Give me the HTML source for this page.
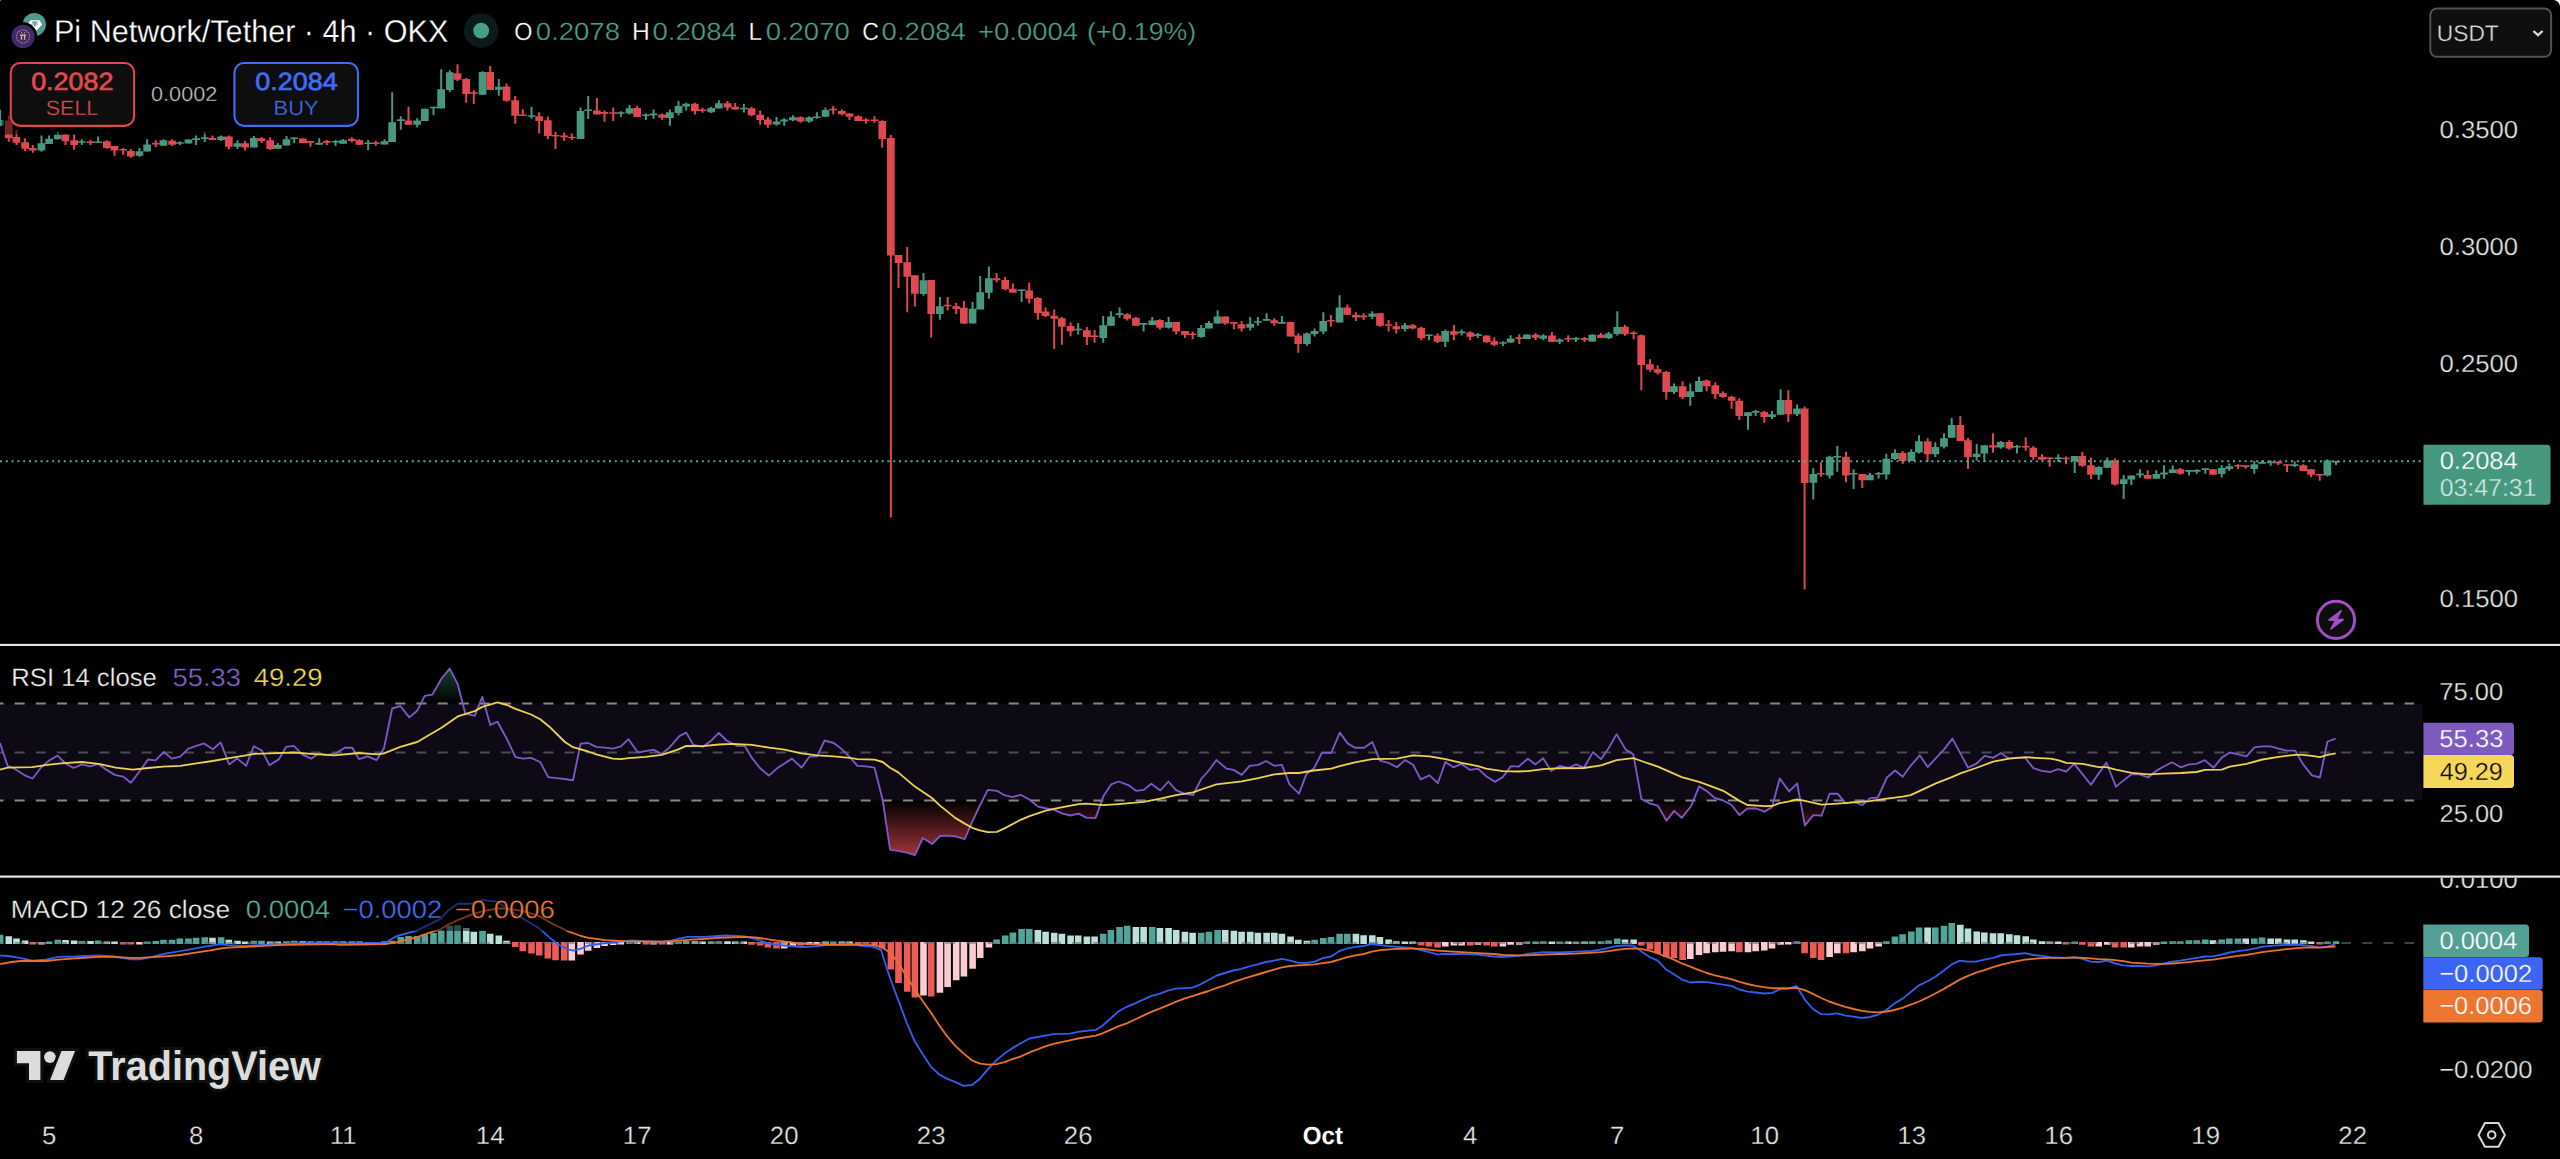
<!DOCTYPE html>
<html lang="en"><head><meta charset="utf-8"><title>Pi Network/Tether 4h OKX chart</title>
<style>
html,body{margin:0;padding:0;background:#000;overflow:hidden}
body{width:2560px;height:1159px;position:relative;font-family:"Liberation Sans",sans-serif}
svg{position:absolute;left:0;top:0;display:block}
text{font-family:"Liberation Sans",sans-serif;white-space:pre;text-rendering:geometricPrecision}
</style></head><body>
<svg width="2560" height="1159" viewBox="0 0 2560 1159">
<rect width="2560" height="1159" fill="#000"/>
<g id="candles">
<path d="M0.1 109.7v16.6M41.5 135.4v16.3M49.1 135.4v8.5M57.8 131.4v7.8M81.8 139.2v5.9M98.1 136.4v6.4M139.5 148v8.8M147.1 139.2v12.4M163.5 139.2v6.5M179.8 141.3v3.8M188.5 139.5v4.1M196.1 135.4v9.5M204.8 131.8v10.1M221.1 135.4v5.7M237.5 140.3v8.6M253.8 136.1v11.4M277.8 143v5.9M286.5 136.1v9.3M294.2 137.5v5.7M319.2 138.2v6.5M335.5 140.1v5.7M343.2 139v4.7M368.2 140.1v9.8M384.5 139.2v5.2M392.2 92.2v49.7M400.8 116.3v13.5M417.2 118.3v9.3M424.8 108.8v12.1M433.5 106.7v8.5M441.2 69.2v39.3M449.8 70.2v22M482.5 71.2v23.5M498.8 79v16.8M531.5 106.7v12.1M580.5 107.5v31.4M588.2 96.1v22.8M620.9 111.3v5.8M629.5 104.9v9.5M645.9 113.4v6.5M653.5 109.5v9.3M669.9 109.5v16.3M678.5 100.9v14.3M686.2 102.8v7.8M711.2 106.7v6.4M718.9 100.2v8.3M743.9 103.8v8.8M776.5 117.1v8.7M784.2 118.3v7.5M792.9 115.2v6M809.2 116.3v6.4M816.9 112.3v6.5M825.5 107.5v9.3M923.5 273.1v22.6M939.9 297.1v22.6M972.6 302.1v21.5M980.2 276v33.3M988.9 266.4v32.4M1021.6 289.5v12.4M1078.2 323v11.4M1103.2 316.1v26.7M1110.9 311.2v14.5M1119.6 307.6v10.1M1143.6 323.1v8.3M1152.2 317.1v7.9M1168.6 317.1v11.4M1201.2 325v12.8M1208.9 321.1v7.5M1217.6 310.2v13.5M1250.2 317.1v13.3M1257.9 317.1v8.6M1266.6 313.3v7.2M1281.9 316.1v7.6M1306.9 332.5v13.3M1314.6 328.5v7.9M1323.3 312.3v22M1339.6 295.2v27.4M1372.3 311.2v7.8M1404.9 322.9v8.5M1428.9 334.5v5.7M1445.3 329.6v17.4M1461.6 329.5v5.9M1477.9 333.1v5M1502.9 341.2v4.9M1510.6 335.2v7.5M1526.9 334.4v4.5M1543.3 334.2v6M1559.6 338.3v5.7M1575.9 337.1v4.9M1592.3 334.2v7.5M1608.6 332.1v7M1617.3 311.2v24.2M1674 383.4v10.7M1690.3 383.4v22.4M1699 376.7v15.2M1748 412.3v17.4M1755.6 410.1v6M1772 411.1v7.8M1780.6 389.2v25.6M1797 404.4v11.7M1813.3 468.3v31.3M1829.6 455.7v22.8M1837.3 446.1v25.6M1853.6 469.2v19.7M1870 473v7.2M1878.6 471.9v6.5M1886.3 453.8v25.7M1895 449.2v10.9M1911.3 449.2v11.9M1919 435.2v18.4M1935.3 442.2v14.9M1944 433.3v15.3M1951.7 418.1v19.7M1976.7 444v16.6M1984.3 445.3v16.6M2000.7 440.9v7.8M2017 445v8.6M2058.3 454.3v7.8M2074.7 455.9v17.1M2098.7 466.3v13.5M2107.3 457.5v10.4M2123.7 475.1v23.8M2131.3 475.4v9.7M2140 469.2v8.5M2156.3 470.2v8.5M2164 465.2v13.5M2172.7 465.2v7.8M2189 470.2v5.4M2196.7 469.2v4.6M2205.3 468.3v5.4M2221.7 465.2v12.4M2229.3 463.4v7.6M2254.3 461.1v12.6M2262 460.6v3.1M2270.7 460.6v5.2M2294.7 461.3v5.8M2327.4 459.2v17.4M2336 461.1v3.9" stroke="#46987f" stroke-width="2" fill="none"/>
<path d="M8.8 115.4v26.4M16.5 129.9v15M25.1 138.2v12.7M32.8 144.9v7.8M65.5 133.7v11.2M74.1 134.3v15.5M90.5 139.9v5.2M106.8 140.2v8.6M114.5 146.1v9.6M123.1 148v6.7M130.8 149v8.8M155.8 140.2v6.7M172.1 139.2v6.7M212.5 135.4v4.7M228.8 135.4v14.2M245.1 141.1v9.5M261.5 137.2v5.8M270.2 137.2v12.7M302.8 138.5v4.5M310.5 141.1v5.7M326.8 140.1v5M351.8 137.2v5.2M359.5 139.2v5.5M375.8 141.1v4.7M408.5 106.7v18M457.5 64.3v16.6M466.2 78v24.8M473.8 90.2v13.7M490.2 66v24.1M506.5 83.6v18.1M515.2 96.1v27.6M522.8 109.2v6.8M539.2 112.3v21.3M547.8 116.5v22.8M555.5 131.8v17.1M564.2 132.6v8.5M571.8 133.6v6.4M596.9 98.1v16.3M604.5 110.6v11.1M613.2 107.5v13.5M637.2 105.7v11.4M662.2 113.4v6.5M694.9 102.8v11.6M702.5 107.8v4.9M727.5 100.9v9.6M735.2 103v6.5M751.5 106.7v9.5M760.2 110.6v14.2M767.9 117.1v10.6M800.5 116.3v6.4M833.2 105.9v8.5M841.9 109.5v5.7M849.5 113.4v6.5M858.2 115.2v5.7M865.9 118.3v5.4M874.5 116.3v6.7M882.2 120.2v27.6M890.9 135v382.5M898.5 255v33.1M907.2 247v65.2M914.9 275.2v31.3M931.2 279.9v57.5M947.6 297.1v13.3M956.2 302.9v11.1M963.9 301.1v22.6M996.6 273.1v9.3M1005.2 277.1v13.1M1012.9 283.5v9.3M1029.2 282.4v21.2M1037.9 297.1v22.6M1045.6 307.5v9.6M1054.2 309.4v39.5M1061.9 317.1v27.6M1070.6 322.3v14M1086.9 327.1v17.8M1094.6 329.9v12.9M1127.2 313.3v7.2M1135.9 317.1v8.6M1159.9 319.2v10.4M1176.2 322.1v12.4M1184.9 330.9v7.2M1192.6 331.4v7.8M1225.2 316.4v8.3M1233.9 322.1v7.5M1241.6 321.1v10.4M1274.3 318.2v7.6M1290.6 322.1v14.3M1298.3 333.3v19.4M1330.9 315.1v11.7M1347.3 304.5v10.4M1355.9 312.3v8.6M1363.6 313.3v6.7M1379.9 313.3v13.5M1388.6 320v11.4M1396.3 322.1v11.4M1412.6 324v5.6M1421.3 326.8v13.5M1437.6 333.3v9.7M1453.9 324.9v15.3M1470.3 331.3v8.9M1486.6 335.4v7.6M1494.3 337.3v8.8M1519.3 334.2v9.8M1535.6 333.1v7M1551.9 332.1v9.8M1568.3 335.2v6.7M1584.6 337.1v4.9M1600.9 333.1v5M1625 324.9v10.9M1633.6 331.2v8M1641.3 334.5v55.7M1650 359.3v12.4M1657.6 365.3v9.3M1666.3 370.9v28.8M1682.6 381.3v17.6M1706.6 379.5v11.7M1715.3 382.3v16.6M1723 391.2v6.6M1731.6 396.1v12.7M1739.3 398.2v21.7M1764.3 411.1v11.9M1788.3 390.2v31.8M1804.6 406.5v183M1821 462.3v14.5M1846 451.8v30.5M1862.3 474v14M1902.6 450.9v13M1927.6 438.3v23.6M1960.3 416v24.8M1968 438.1v30.7M1993 433.3v19.5M2009.3 440.2v9.5M2025.7 437.3v13.5M2033.3 446.1v14M2042 454.3v6.2M2049.7 457.5v9.3M2066 456.4v7.8M2082.3 451.8v15M2091 457.5v21.4M2115 458.5v26.9M2147.7 470.2v8.5M2180.3 468.1v6.6M2213 469.2v5.6M2238 464.2v4.7M2245.7 465.4v3.4M2278.3 461.1v3.9M2287 464.2v7.8M2303.4 464.2v6.7M2311 469.2v7.7M2319.7 474v6.7" stroke="#de484e" stroke-width="2" fill="none"/>
<path d="M-3.7 120h7.7v5.7h-7.7zM37.6 143.3h7.7v7.2h-7.7zM45.3 138.7h7.7v5.2h-7.7zM53.9 134.7h7.7v4.5h-7.7zM77.9 141.2h7.7v1.6h-7.7zM94.3 141.5h7.7v1.6h-7.7zM135.6 151.3h7.7v4.5h-7.7zM143.3 144.4h7.7v7.2h-7.7zM159.6 140.2h7.7v5.5h-7.7zM176 142.2h7.7v1.6h-7.7zM184.6 139.5h7.7v4.1h-7.7zM192.3 138.3h7.7v1.6h-7.7zM201 137.2h7.7v1.7h-7.7zM217.3 136.4h7.7v3.6h-7.7zM233.6 143.2h7.7v3.6h-7.7zM250 138h7.7v9.5h-7.7zM274 145h7.7v3.8h-7.7zM282.6 139.2h7.7v6.2h-7.7zM290.3 137.5h7.7v1.6h-7.7zM315.3 142.7h7.7v2.1h-7.7zM331.6 140.9h7.7v1.6h-7.7zM339.3 140.3h7.7v3.4h-7.7zM364.3 142.5h7.7v1.6h-7.7zM380.6 141.3h7.7v3.1h-7.7zM388.3 122.3h7.7v19.7h-7.7zM397 119.3h7.7v1.6h-7.7zM413.3 120.4h7.7v4.3h-7.7zM421 108.8h7.7v12.1h-7.7zM429.7 106.7h7.7v1.6h-7.7zM437.3 89.3h7.7v19.2h-7.7zM446 72.3h7.7v17.6h-7.7zM478.7 71.9h7.7v22.8h-7.7zM495 86.7h7.7v3.1h-7.7zM527.7 115.2h7.7v1.6h-7.7zM576.7 110.9h7.7v28h-7.7zM584.3 109.5h7.7v1.6h-7.7zM617 112.2h7.7v1.6h-7.7zM625.7 108.2h7.7v5.2h-7.7zM642 114.4h7.7v1.7h-7.7zM649.7 113.6h7.7v1.6h-7.7zM666 112.3h7.7v5.8h-7.7zM674.7 106.1h7.7v6.8h-7.7zM682.3 103.8h7.7v2.6h-7.7zM707.3 108h7.7v4.3h-7.7zM715 103.3h7.7v5.2h-7.7zM740 107.7h7.7v1.6h-7.7zM772.7 121.4h7.7v3.1h-7.7zM780.4 119.6h7.7v1.9h-7.7zM789 117.3h7.7v2.9h-7.7zM805.4 117.3h7.7v4.3h-7.7zM813 116.4h7.7v1.6h-7.7zM821.7 110h7.7v6.7h-7.7zM919.7 280.2h7.7v13.7h-7.7zM936 306.3h7.7v7.8h-7.7zM968.7 308.8h7.7v14.8h-7.7zM976.4 292.3h7.7v17.1h-7.7zM985 278.3h7.7v14.5h-7.7zM1017.7 289.4h7.7v1.6h-7.7zM1074.4 328.7h7.7v1.6h-7.7zM1099.4 325.2h7.7v12.9h-7.7zM1107.1 316.4h7.7v9.3h-7.7zM1115.7 313.3h7.7v1.6h-7.7zM1139.7 323.1h7.7v1.6h-7.7zM1148.4 320.6h7.7v4.5h-7.7zM1164.7 322.1h7.7v5.7h-7.7zM1197.4 328.1h7.7v9h-7.7zM1205.1 323.1h7.7v5.4h-7.7zM1213.7 316.4h7.7v7.2h-7.7zM1246.4 323.7h7.7v4.1h-7.7zM1254.1 321.2h7.7v1.6h-7.7zM1262.7 319.1h7.7v1.6h-7.7zM1278.1 322.1h7.7v1.6h-7.7zM1303.1 333.5h7.7v10.4h-7.7zM1310.7 330.9h7.7v3.1h-7.7zM1319.4 321.1h7.7v10.4h-7.7zM1335.7 307.6h7.7v15h-7.7zM1368.4 313.6h7.7v3.1h-7.7zM1401.1 325.2h7.7v3.9h-7.7zM1425.1 334.5h7.7v1.6h-7.7zM1441.4 330.9h7.7v10.9h-7.7zM1457.8 331.6h7.7v1.6h-7.7zM1474.1 334.3h7.7v1.6h-7.7zM1499.1 342.2h7.7v1.6h-7.7zM1506.8 338.5h7.7v4.1h-7.7zM1523.1 334.4h7.7v4.5h-7.7zM1539.4 335.4h7.7v3.4h-7.7zM1555.8 339.4h7.7v2.3h-7.7zM1572.1 338h7.7v1.6h-7.7zM1588.4 334.7h7.7v6.9h-7.7zM1604.8 333.4h7.7v4.8h-7.7zM1613.4 326.9h7.7v7h-7.7zM1670.1 386.3h7.7v5.7h-7.7zM1686.4 391.2h7.7v5.9h-7.7zM1695.1 380.9h7.7v11.1h-7.7zM1744.1 412.3h7.7v3.7h-7.7zM1751.8 411.1h7.7v1.6h-7.7zM1768.1 414.2h7.7v2.9h-7.7zM1776.8 399.9h7.7v14.8h-7.7zM1793.1 408.5h7.7v5.7h-7.7zM1809.5 474h7.7v8.8h-7.7zM1825.8 456.7h7.7v18.8h-7.7zM1833.5 455.9h7.7v1.6h-7.7zM1849.8 473h7.7v1.6h-7.7zM1866.1 475.1h7.7v5.2h-7.7zM1874.8 473h7.7v1.6h-7.7zM1882.5 458.8h7.7v15.7h-7.7zM1891.1 453h7.7v6h-7.7zM1907.5 452h7.7v9.1h-7.7zM1915.1 441.2h7.7v11.4h-7.7zM1931.5 447.1h7.7v7.2h-7.7zM1940.1 438.3h7.7v8.5h-7.7zM1947.8 425.1h7.7v12.7h-7.7zM1972.8 453.8h7.7v3.3h-7.7zM1980.5 445.3h7.7v8.3h-7.7zM1996.8 441.9h7.7v5.7h-7.7zM2013.1 446h7.7v1.6h-7.7zM2054.5 457.4h7.7v1.6h-7.7zM2070.8 455.9h7.7v5.4h-7.7zM2094.8 467.1h7.7v7.7h-7.7zM2103.5 460.6h7.7v7.2h-7.7zM2119.8 479.2h7.7v4.7h-7.7zM2127.5 475.4h7.7v4.1h-7.7zM2136.2 473.6h7.7v1.6h-7.7zM2152.5 474h7.7v4.7h-7.7zM2160.2 472.5h7.7v1.9h-7.7zM2168.8 469.4h7.7v3.6h-7.7zM2185.2 470.1h7.7v1.6h-7.7zM2192.8 470.1h7.7v1.6h-7.7zM2201.5 468.3h7.7v1.6h-7.7zM2217.8 468.1h7.7v5.9h-7.7zM2225.5 466.3h7.7v2.6h-7.7zM2250.5 464.2h7.7v4.7h-7.7zM2258.2 462.1h7.7v1.6h-7.7zM2266.8 461.6h7.7v1.6h-7.7zM2290.8 464.3h7.7v1.6h-7.7zM2323.5 460.6h7.7v15h-7.7zM2332.2 460.9h7.7v1.6h-7.7z" fill="#46987f"/>
<path d="M4.9 120.6h7.7v17.6h-7.7zM12.6 137.1h7.7v5.7h-7.7zM21.3 142.3h7.7v6.5h-7.7zM28.9 148h7.7v2.6h-7.7zM61.6 134.5h7.7v6.7h-7.7zM70.3 140.2h7.7v4.7h-7.7zM86.6 141.4h7.7v1.6h-7.7zM103 141.3h7.7v6.7h-7.7zM110.6 146.1h7.7v4.5h-7.7zM119.3 149h7.7v1.6h-7.7zM127 150.9h7.7v5.6h-7.7zM152 142.8h7.7v1.6h-7.7zM168.3 140.7h7.7v4.1h-7.7zM208.6 138h7.7v2.1h-7.7zM225 136.4h7.7v10.4h-7.7zM241.3 143.2h7.7v4.3h-7.7zM257.6 138.2h7.7v2.9h-7.7zM266.3 140.3h7.7v8.6h-7.7zM299 138.5h7.7v4.5h-7.7zM306.6 141.1h7.7v1.6h-7.7zM323 141.1h7.7v1.6h-7.7zM348 138.8h7.7v2.3h-7.7zM355.6 140.3h7.7v4.5h-7.7zM372 142.5h7.7v1.6h-7.7zM404.6 120.4h7.7v4.3h-7.7zM453.7 73.3h7.7v6.5h-7.7zM462.3 79h7.7v15h-7.7zM470 92.2h7.7v1.6h-7.7zM486.3 71.9h7.7v18.2h-7.7zM502.7 86.4h7.7v14.3h-7.7zM511.3 100.2h7.7v15.5h-7.7zM519 114.4h7.7v1.7h-7.7zM535.3 116.3h7.7v4.7h-7.7zM544 120.2h7.7v15.9h-7.7zM551.7 134.9h7.7v1.6h-7.7zM560.3 135.6h7.7v1.6h-7.7zM568 136.7h7.7v1.6h-7.7zM593 110.6h7.7v3.8h-7.7zM600.7 112.1h7.7v1.6h-7.7zM609.3 112.2h7.7v1.6h-7.7zM633.3 108h7.7v9.1h-7.7zM658.3 114.4h7.7v3.4h-7.7zM691 103.8h7.7v7.5h-7.7zM698.7 109.5h7.7v1.6h-7.7zM723.7 103.3h7.7v4.1h-7.7zM731.3 106.7h7.7v2.8h-7.7zM747.7 108.2h7.7v7h-7.7zM756.3 114.7h7.7v5.2h-7.7zM764 119.4h7.7v5.4h-7.7zM796.7 117.3h7.7v4.3h-7.7zM829.4 108.7h7.7v1.6h-7.7zM838 110.9h7.7v3.3h-7.7zM845.7 113.4h7.7v3.4h-7.7zM854.4 116.3h7.7v4.7h-7.7zM862 119.4h7.7v1.6h-7.7zM870.7 119.4h7.7v1.6h-7.7zM878.4 120.9h7.7v18.1h-7.7zM887 138h7.7v117.6h-7.7zM894.7 255h7.7v8h-7.7zM903.4 262.3h7.7v14.5h-7.7zM911 275.2h7.7v18.6h-7.7zM927.4 279.9h7.7v34.2h-7.7zM943.7 304.7h7.7v1.6h-7.7zM952.4 306.3h7.7v2.6h-7.7zM960 307.8h7.7v15.8h-7.7zM992.7 278.3h7.7v1.9h-7.7zM1001.4 279.9h7.7v9.3h-7.7zM1009 288.7h7.7v4.1h-7.7zM1025.4 290.5h7.7v8.3h-7.7zM1034 298h7.7v15h-7.7zM1041.7 311.4h7.7v4.7h-7.7zM1050.4 315.8h7.7v2.9h-7.7zM1058 318.2h7.7v8.6h-7.7zM1066.7 326.1h7.7v5.2h-7.7zM1083 330.2h7.7v6.9h-7.7zM1090.7 335.5h7.7v1.6h-7.7zM1123.4 314.3h7.7v4.5h-7.7zM1132.1 318h7.7v7.8h-7.7zM1156.1 320h7.7v7.8h-7.7zM1172.4 322.1h7.7v9.3h-7.7zM1181.1 330.9h7.7v3.8h-7.7zM1188.7 333.5h7.7v1.6h-7.7zM1221.4 316.4h7.7v7.2h-7.7zM1230.1 322.1h7.7v1.6h-7.7zM1237.7 324.2h7.7v4.3h-7.7zM1270.4 320.2h7.7v3.1h-7.7zM1286.7 322.1h7.7v14.3h-7.7zM1294.4 335.4h7.7v8.5h-7.7zM1327.1 320h7.7v1.6h-7.7zM1343.4 307.6h7.7v7.2h-7.7zM1352.1 314.7h7.7v2.8h-7.7zM1359.7 315.6h7.7v1.6h-7.7zM1376.1 313.3h7.7v12.4h-7.7zM1384.7 324.2h7.7v1.6h-7.7zM1392.4 326.3h7.7v2.9h-7.7zM1408.7 325.2h7.7v3.3h-7.7zM1417.4 327.8h7.7v10.4h-7.7zM1433.7 335.4h7.7v6.4h-7.7zM1450.1 331.3h7.7v3.4h-7.7zM1466.4 332.6h7.7v4.1h-7.7zM1482.8 335.4h7.7v6.5h-7.7zM1490.4 341.2h7.7v3.5h-7.7zM1515.4 337.3h7.7v1.6h-7.7zM1531.8 334.7h7.7v3.1h-7.7zM1548.1 335.4h7.7v6.5h-7.7zM1564.4 338h7.7v1.6h-7.7zM1580.8 338.3h7.7v1.6h-7.7zM1597.1 334.7h7.7v3.4h-7.7zM1621.1 326.7h7.7v7.5h-7.7zM1629.8 332.4h7.7v1.6h-7.7zM1637.4 335.3h7.7v29.7h-7.7zM1646.1 364.3h7.7v5.4h-7.7zM1653.8 369.2h7.7v3.6h-7.7zM1662.4 372h7.7v20h-7.7zM1678.8 386.3h7.7v10.9h-7.7zM1702.8 380.6h7.7v5.7h-7.7zM1711.4 385.2h7.7v8.8h-7.7zM1719.1 393.3h7.7v3.8h-7.7zM1727.8 396.8h7.7v3.9h-7.7zM1735.4 400.7h7.7v15.3h-7.7zM1760.4 412.1h7.7v5h-7.7zM1784.5 399.9h7.7v14.3h-7.7zM1800.8 408.6h7.7v74.3h-7.7zM1817.1 473h7.7v1.6h-7.7zM1842.1 456.7h7.7v18.8h-7.7zM1858.5 474h7.7v6.2h-7.7zM1898.8 453h7.7v7.9h-7.7zM1923.8 441.2h7.7v13.1h-7.7zM1956.5 425.1h7.7v15.8h-7.7zM1964.1 440.2h7.7v17h-7.7zM1989.1 445.3h7.7v2.3h-7.7zM2005.5 441.9h7.7v6.7h-7.7zM2021.8 446h7.7v1.6h-7.7zM2029.5 447.8h7.7v9.3h-7.7zM2038.1 456.7h7.7v3.1h-7.7zM2045.8 457.4h7.7v1.6h-7.7zM2062.1 457.7h7.7v1.6h-7.7zM2078.5 455.9h7.7v9.8h-7.7zM2087.1 465.2h7.7v9.5h-7.7zM2111.1 460.6h7.7v23.8h-7.7zM2143.8 475.1h7.7v3.6h-7.7zM2176.5 469.2h7.7v4.6h-7.7zM2209.2 469.2h7.7v5.6h-7.7zM2234.2 465h7.7v1.6h-7.7zM2241.8 465.3h7.7v1.6h-7.7zM2274.5 461.9h7.7v1.6h-7.7zM2283.2 464.2h7.7v1.6h-7.7zM2299.5 465.2h7.7v5.7h-7.7zM2307.2 469.2h7.7v5.6h-7.7zM2315.8 474h7.7v1.6h-7.7z" fill="#de484e"/>
</g>
<path d="M0 461.25H2422" stroke="#4fae94" stroke-width="2" stroke-dasharray="2 3.8" fill="none"/>
<rect x="0" y="643.85" width="2560" height="2.15" fill="#e4e6ec"/>
<rect x="0" y="875.5" width="2560" height="2.2" fill="#e4e6ec"/>
<rect x="0" y="703.5" width="2422" height="97.0" fill="#0d0a15"/>
<defs><linearGradient id="gob" x1="0" y1="631" x2="0" y2="703.5" gradientUnits="userSpaceOnUse"><stop offset="0" stop-color="#3f957a" stop-opacity="0.85"/><stop offset="1" stop-color="#3f9b78" stop-opacity="0"/></linearGradient><linearGradient id="gos" x1="0" y1="800.5" x2="0" y2="873" gradientUnits="userSpaceOnUse"><stop offset="0" stop-color="#e0484e" stop-opacity="0"/><stop offset="1" stop-color="#e0484e" stop-opacity="0.95"/></linearGradient><clipPath id="cob"><rect x="0" y="646" width="2422" height="57.5"/></clipPath><clipPath id="cos"><rect x="0" y="800.5" width="2422" height="74.5"/></clipPath></defs>
<path d="M0 703.5 L0 743 L7.6 765.8 L13.3 768 L24.7 775.3 L32.6 778.5 L40.8 767.7 L49 760.6 L57.5 755.7 L65.5 763.5 L73.6 768 L82 764.4 L90.1 766.3 L98.3 763.9 L106.7 769.9 L114.8 774.9 L123 776.6 L130.9 782.8 L139.5 771.5 L148 759.5 L155.6 760.4 L163.8 751.9 L171.7 758.6 L180.3 756.7 L188.4 748.7 L196.4 745.8 L204 743.4 L212.9 749.3 L220.7 742.4 L229.1 764.4 L237.2 758.6 L246.1 765.8 L253.9 746.2 L261.9 750.6 L269.5 765.2 L279 759.1 L286.2 746.8 L293.8 745.8 L302.1 754.4 L311.2 758.7 L318.8 753.4 L327.4 754.9 L335.9 753.4 L344.7 747.7 L352.3 747.7 L359 759.1 L367.5 756.3 L376.6 760.1 L384 748.3 L392.2 708.5 L400.3 706 L409.3 717.4 L417.2 710.7 L424.8 695.9 L432.4 694.6 L441.5 678.5 L449.7 668.6 L457.7 684.2 L465.3 713.6 L474.7 715.9 L482.3 696.9 L490.3 725 L497.5 721.7 L507 739.2 L515.5 757.2 L523.1 758.6 L531.1 757.8 L540.2 762 L548.2 777.1 L556.3 778.1 L564.9 779 L573 780.4 L580.6 743.6 L588.2 743 L596.2 746.8 L604.7 747.7 L612.7 748.7 L620.9 746.4 L628.5 739.2 L637.9 752.5 L645.5 751.1 L653.5 749.6 L661.7 754 L669.3 747.7 L679.7 735.8 L686.3 732.6 L693.3 744.9 L702.8 746.8 L710.7 741.1 L718.9 732.9 L726.5 740.5 L736.9 745.8 L744.5 745.5 L752.1 758.2 L759.7 767.7 L768.8 775.6 L776.8 768.6 L784.4 763.5 L792 758.6 L801.5 767.7 L809.4 756.7 L817 756.3 L824.6 740.5 L833.7 743 L841.3 748.7 L849.8 757.2 L857.4 765.8 L866 766.3 L874.5 767.7 L882.7 799.9 L890.1 849.8 L898.2 850.8 L906.8 852.7 L914.9 855 L922.9 837.9 L932 844.1 L940 836 L947.6 835.6 L955.2 836.4 L964.7 839.2 L972.3 821.7 L979.8 805.6 L987.8 789.9 L996.9 790.8 L1004.5 795.2 L1012.5 797.1 L1020.6 794.8 L1029.5 799.5 L1038 806.6 L1046.6 808.5 L1054.2 809.8 L1062.7 813.6 L1070.3 815.5 L1078.5 813.6 L1086.4 817.6 L1095.5 818.1 L1103.5 796.1 L1111.1 784.4 L1118.7 781.5 L1128.2 785.1 L1136.1 790.8 L1143.7 789.9 L1151.3 783.8 L1160.4 790.4 L1168.4 781.5 L1176 790.1 L1184.2 793.7 L1193.1 795.2 L1201.2 779 L1208.8 770.5 L1216.4 760.1 L1226.5 768.6 L1233.5 769.9 L1241.7 774.9 L1249.6 765.8 L1258.2 764.8 L1266.1 761 L1274.3 765.8 L1281.9 764.8 L1289.5 784.4 L1299 793.7 L1306.6 773.7 L1313.8 768.6 L1322.1 752.5 L1331.2 753 L1339.8 732.6 L1347.7 743.4 L1354.9 747.7 L1364.2 747.7 L1372.3 742 L1379.9 760.6 L1388.5 762.9 L1397 767.3 L1405 760.1 L1413.1 764.8 L1420.7 779.4 L1429.6 775.3 L1437.8 783.2 L1445.4 762 L1453.4 767.3 L1461.5 763.9 L1470.1 769.9 L1478 768.6 L1486.2 776.2 L1495.1 781.9 L1502.7 777.1 L1510.9 766.1 L1518.5 766.7 L1527.9 758.7 L1535.5 764.4 L1543.1 758.2 L1551.1 770.9 L1560.2 765.8 L1568.2 768 L1576 764.4 L1583.9 767.7 L1593 752.1 L1601 759.1 L1608.6 748.3 L1616.6 734.1 L1625.7 749.6 L1633.3 754.4 L1641.4 799 L1649.4 803.3 L1657.9 805.6 L1666.5 820.8 L1674.1 810.9 L1681.7 817.9 L1691.2 806 L1699.1 786.3 L1707.2 791.4 L1714.8 798 L1723.2 800.5 L1731.3 804.7 L1739.5 815.1 L1747.4 808.5 L1756 808.5 L1764.5 811.7 L1772.1 807.1 L1779.7 778.5 L1789.2 791.4 L1797.2 783.4 L1804.9 825.5 L1813.3 815.1 L1821.5 815.7 L1829.6 793.7 L1837.6 793.7 L1845.6 803.3 L1853.7 801.8 L1862.3 805 L1869.8 798.4 L1877.8 797.5 L1886.9 777.5 L1895.1 770.5 L1902.7 776.8 L1910.6 765.8 L1919.8 755.3 L1927.7 767.1 L1935.9 758.2 L1943.9 749.6 L1952.4 738.6 L1960.4 753.4 L1968.1 767.7 L1976.1 763.9 L1984.7 755.9 L1993.2 757.8 L2000.8 753 L2009 758.6 L2016.9 757.6 L2025.5 758.2 L2033.4 768.2 L2041.9 770.9 L2050.4 772 L2058 769.2 L2066.2 771.5 L2074.2 763.9 L2082.7 774.3 L2090.9 784.7 L2098.8 773.4 L2106.4 762.5 L2115.9 786.6 L2123.5 780.4 L2131.5 774.3 L2139.6 774.3 L2148.2 777.5 L2156.1 770.9 L2163.4 766.7 L2171.9 762.3 L2180.8 767.3 L2189 764.4 L2196.6 763.9 L2204.7 760.1 L2213.6 767.7 L2221.8 757.6 L2229.8 752.5 L2238.3 754.4 L2246.5 756.3 L2254.4 747.4 L2262.4 746.4 L2270.6 746.4 L2278.7 748.7 L2286.7 750.6 L2295.2 750.6 L2302.8 763.9 L2311.9 775.3 L2319.9 777.5 L2327.5 741.5 L2335.7 738.6 L2335.7 703.5 Z" fill="url(#gob)" clip-path="url(#cob)"/>
<path d="M0 800.5 L0 743 L7.6 765.8 L13.3 768 L24.7 775.3 L32.6 778.5 L40.8 767.7 L49 760.6 L57.5 755.7 L65.5 763.5 L73.6 768 L82 764.4 L90.1 766.3 L98.3 763.9 L106.7 769.9 L114.8 774.9 L123 776.6 L130.9 782.8 L139.5 771.5 L148 759.5 L155.6 760.4 L163.8 751.9 L171.7 758.6 L180.3 756.7 L188.4 748.7 L196.4 745.8 L204 743.4 L212.9 749.3 L220.7 742.4 L229.1 764.4 L237.2 758.6 L246.1 765.8 L253.9 746.2 L261.9 750.6 L269.5 765.2 L279 759.1 L286.2 746.8 L293.8 745.8 L302.1 754.4 L311.2 758.7 L318.8 753.4 L327.4 754.9 L335.9 753.4 L344.7 747.7 L352.3 747.7 L359 759.1 L367.5 756.3 L376.6 760.1 L384 748.3 L392.2 708.5 L400.3 706 L409.3 717.4 L417.2 710.7 L424.8 695.9 L432.4 694.6 L441.5 678.5 L449.7 668.6 L457.7 684.2 L465.3 713.6 L474.7 715.9 L482.3 696.9 L490.3 725 L497.5 721.7 L507 739.2 L515.5 757.2 L523.1 758.6 L531.1 757.8 L540.2 762 L548.2 777.1 L556.3 778.1 L564.9 779 L573 780.4 L580.6 743.6 L588.2 743 L596.2 746.8 L604.7 747.7 L612.7 748.7 L620.9 746.4 L628.5 739.2 L637.9 752.5 L645.5 751.1 L653.5 749.6 L661.7 754 L669.3 747.7 L679.7 735.8 L686.3 732.6 L693.3 744.9 L702.8 746.8 L710.7 741.1 L718.9 732.9 L726.5 740.5 L736.9 745.8 L744.5 745.5 L752.1 758.2 L759.7 767.7 L768.8 775.6 L776.8 768.6 L784.4 763.5 L792 758.6 L801.5 767.7 L809.4 756.7 L817 756.3 L824.6 740.5 L833.7 743 L841.3 748.7 L849.8 757.2 L857.4 765.8 L866 766.3 L874.5 767.7 L882.7 799.9 L890.1 849.8 L898.2 850.8 L906.8 852.7 L914.9 855 L922.9 837.9 L932 844.1 L940 836 L947.6 835.6 L955.2 836.4 L964.7 839.2 L972.3 821.7 L979.8 805.6 L987.8 789.9 L996.9 790.8 L1004.5 795.2 L1012.5 797.1 L1020.6 794.8 L1029.5 799.5 L1038 806.6 L1046.6 808.5 L1054.2 809.8 L1062.7 813.6 L1070.3 815.5 L1078.5 813.6 L1086.4 817.6 L1095.5 818.1 L1103.5 796.1 L1111.1 784.4 L1118.7 781.5 L1128.2 785.1 L1136.1 790.8 L1143.7 789.9 L1151.3 783.8 L1160.4 790.4 L1168.4 781.5 L1176 790.1 L1184.2 793.7 L1193.1 795.2 L1201.2 779 L1208.8 770.5 L1216.4 760.1 L1226.5 768.6 L1233.5 769.9 L1241.7 774.9 L1249.6 765.8 L1258.2 764.8 L1266.1 761 L1274.3 765.8 L1281.9 764.8 L1289.5 784.4 L1299 793.7 L1306.6 773.7 L1313.8 768.6 L1322.1 752.5 L1331.2 753 L1339.8 732.6 L1347.7 743.4 L1354.9 747.7 L1364.2 747.7 L1372.3 742 L1379.9 760.6 L1388.5 762.9 L1397 767.3 L1405 760.1 L1413.1 764.8 L1420.7 779.4 L1429.6 775.3 L1437.8 783.2 L1445.4 762 L1453.4 767.3 L1461.5 763.9 L1470.1 769.9 L1478 768.6 L1486.2 776.2 L1495.1 781.9 L1502.7 777.1 L1510.9 766.1 L1518.5 766.7 L1527.9 758.7 L1535.5 764.4 L1543.1 758.2 L1551.1 770.9 L1560.2 765.8 L1568.2 768 L1576 764.4 L1583.9 767.7 L1593 752.1 L1601 759.1 L1608.6 748.3 L1616.6 734.1 L1625.7 749.6 L1633.3 754.4 L1641.4 799 L1649.4 803.3 L1657.9 805.6 L1666.5 820.8 L1674.1 810.9 L1681.7 817.9 L1691.2 806 L1699.1 786.3 L1707.2 791.4 L1714.8 798 L1723.2 800.5 L1731.3 804.7 L1739.5 815.1 L1747.4 808.5 L1756 808.5 L1764.5 811.7 L1772.1 807.1 L1779.7 778.5 L1789.2 791.4 L1797.2 783.4 L1804.9 825.5 L1813.3 815.1 L1821.5 815.7 L1829.6 793.7 L1837.6 793.7 L1845.6 803.3 L1853.7 801.8 L1862.3 805 L1869.8 798.4 L1877.8 797.5 L1886.9 777.5 L1895.1 770.5 L1902.7 776.8 L1910.6 765.8 L1919.8 755.3 L1927.7 767.1 L1935.9 758.2 L1943.9 749.6 L1952.4 738.6 L1960.4 753.4 L1968.1 767.7 L1976.1 763.9 L1984.7 755.9 L1993.2 757.8 L2000.8 753 L2009 758.6 L2016.9 757.6 L2025.5 758.2 L2033.4 768.2 L2041.9 770.9 L2050.4 772 L2058 769.2 L2066.2 771.5 L2074.2 763.9 L2082.7 774.3 L2090.9 784.7 L2098.8 773.4 L2106.4 762.5 L2115.9 786.6 L2123.5 780.4 L2131.5 774.3 L2139.6 774.3 L2148.2 777.5 L2156.1 770.9 L2163.4 766.7 L2171.9 762.3 L2180.8 767.3 L2189 764.4 L2196.6 763.9 L2204.7 760.1 L2213.6 767.7 L2221.8 757.6 L2229.8 752.5 L2238.3 754.4 L2246.5 756.3 L2254.4 747.4 L2262.4 746.4 L2270.6 746.4 L2278.7 748.7 L2286.7 750.6 L2295.2 750.6 L2302.8 763.9 L2311.9 775.3 L2319.9 777.5 L2327.5 741.5 L2335.7 738.6 L2335.7 800.5 Z" fill="url(#gos)" clip-path="url(#cos)"/>
<path d="M0 703.5H2414" stroke="#858585" stroke-width="2" stroke-dasharray="10 11.15" stroke-dashoffset="6.5" fill="none"/>
<path d="M0 752.5H2414" stroke="#4a4a50" stroke-width="2" stroke-dasharray="10 11.15" stroke-dashoffset="6.5" fill="none"/>
<path d="M0 800.5H2414" stroke="#858585" stroke-width="2" stroke-dasharray="10 11.15" stroke-dashoffset="6.5" fill="none"/>
<polyline points="0,743 7.6,765.8 13.3,768 24.7,775.3 32.6,778.5 40.8,767.7 49,760.6 57.5,755.7 65.5,763.5 73.6,768 82,764.4 90.1,766.3 98.3,763.9 106.7,769.9 114.8,774.9 123,776.6 130.9,782.8 139.5,771.5 148,759.5 155.6,760.4 163.8,751.9 171.7,758.6 180.3,756.7 188.4,748.7 196.4,745.8 204,743.4 212.9,749.3 220.7,742.4 229.1,764.4 237.2,758.6 246.1,765.8 253.9,746.2 261.9,750.6 269.5,765.2 279,759.1 286.2,746.8 293.8,745.8 302.1,754.4 311.2,758.7 318.8,753.4 327.4,754.9 335.9,753.4 344.7,747.7 352.3,747.7 359,759.1 367.5,756.3 376.6,760.1 384,748.3 392.2,708.5 400.3,706 409.3,717.4 417.2,710.7 424.8,695.9 432.4,694.6 441.5,678.5 449.7,668.6 457.7,684.2 465.3,713.6 474.7,715.9 482.3,696.9 490.3,725 497.5,721.7 507,739.2 515.5,757.2 523.1,758.6 531.1,757.8 540.2,762 548.2,777.1 556.3,778.1 564.9,779 573,780.4 580.6,743.6 588.2,743 596.2,746.8 604.7,747.7 612.7,748.7 620.9,746.4 628.5,739.2 637.9,752.5 645.5,751.1 653.5,749.6 661.7,754 669.3,747.7 679.7,735.8 686.3,732.6 693.3,744.9 702.8,746.8 710.7,741.1 718.9,732.9 726.5,740.5 736.9,745.8 744.5,745.5 752.1,758.2 759.7,767.7 768.8,775.6 776.8,768.6 784.4,763.5 792,758.6 801.5,767.7 809.4,756.7 817,756.3 824.6,740.5 833.7,743 841.3,748.7 849.8,757.2 857.4,765.8 866,766.3 874.5,767.7 882.7,799.9 890.1,849.8 898.2,850.8 906.8,852.7 914.9,855 922.9,837.9 932,844.1 940,836 947.6,835.6 955.2,836.4 964.7,839.2 972.3,821.7 979.8,805.6 987.8,789.9 996.9,790.8 1004.5,795.2 1012.5,797.1 1020.6,794.8 1029.5,799.5 1038,806.6 1046.6,808.5 1054.2,809.8 1062.7,813.6 1070.3,815.5 1078.5,813.6 1086.4,817.6 1095.5,818.1 1103.5,796.1 1111.1,784.4 1118.7,781.5 1128.2,785.1 1136.1,790.8 1143.7,789.9 1151.3,783.8 1160.4,790.4 1168.4,781.5 1176,790.1 1184.2,793.7 1193.1,795.2 1201.2,779 1208.8,770.5 1216.4,760.1 1226.5,768.6 1233.5,769.9 1241.7,774.9 1249.6,765.8 1258.2,764.8 1266.1,761 1274.3,765.8 1281.9,764.8 1289.5,784.4 1299,793.7 1306.6,773.7 1313.8,768.6 1322.1,752.5 1331.2,753 1339.8,732.6 1347.7,743.4 1354.9,747.7 1364.2,747.7 1372.3,742 1379.9,760.6 1388.5,762.9 1397,767.3 1405,760.1 1413.1,764.8 1420.7,779.4 1429.6,775.3 1437.8,783.2 1445.4,762 1453.4,767.3 1461.5,763.9 1470.1,769.9 1478,768.6 1486.2,776.2 1495.1,781.9 1502.7,777.1 1510.9,766.1 1518.5,766.7 1527.9,758.7 1535.5,764.4 1543.1,758.2 1551.1,770.9 1560.2,765.8 1568.2,768 1576,764.4 1583.9,767.7 1593,752.1 1601,759.1 1608.6,748.3 1616.6,734.1 1625.7,749.6 1633.3,754.4 1641.4,799 1649.4,803.3 1657.9,805.6 1666.5,820.8 1674.1,810.9 1681.7,817.9 1691.2,806 1699.1,786.3 1707.2,791.4 1714.8,798 1723.2,800.5 1731.3,804.7 1739.5,815.1 1747.4,808.5 1756,808.5 1764.5,811.7 1772.1,807.1 1779.7,778.5 1789.2,791.4 1797.2,783.4 1804.9,825.5 1813.3,815.1 1821.5,815.7 1829.6,793.7 1837.6,793.7 1845.6,803.3 1853.7,801.8 1862.3,805 1869.8,798.4 1877.8,797.5 1886.9,777.5 1895.1,770.5 1902.7,776.8 1910.6,765.8 1919.8,755.3 1927.7,767.1 1935.9,758.2 1943.9,749.6 1952.4,738.6 1960.4,753.4 1968.1,767.7 1976.1,763.9 1984.7,755.9 1993.2,757.8 2000.8,753 2009,758.6 2016.9,757.6 2025.5,758.2 2033.4,768.2 2041.9,770.9 2050.4,772 2058,769.2 2066.2,771.5 2074.2,763.9 2082.7,774.3 2090.9,784.7 2098.8,773.4 2106.4,762.5 2115.9,786.6 2123.5,780.4 2131.5,774.3 2139.6,774.3 2148.2,777.5 2156.1,770.9 2163.4,766.7 2171.9,762.3 2180.8,767.3 2189,764.4 2196.6,763.9 2204.7,760.1 2213.6,767.7 2221.8,757.6 2229.8,752.5 2238.3,754.4 2246.5,756.3 2254.4,747.4 2262.4,746.4 2270.6,746.4 2278.7,748.7 2286.7,750.6 2295.2,750.6 2302.8,763.9 2311.9,775.3 2319.9,777.5 2327.5,741.5 2335.7,738.6" fill="none" stroke="#7d58c6" stroke-width="1.85" stroke-linejoin="round"/>
<polyline points="0,769.6 7.6,767.7 32.3,767.1 47.4,764.8 60.7,763.3 81.6,762 98.7,763.9 115.8,767.7 132.8,769.6 148,768 163.2,766.7 180.3,765.8 196.4,763.3 212.5,761 229.1,758.2 246.1,755.3 254.3,753.8 269.5,753.4 294.1,752.5 311.2,753.8 334,755.3 359,753 378,754.4 384,753.4 400.3,746.8 417.2,742 441.5,727.8 457.7,716.4 474.7,711.1 482.3,706.9 497.5,702.4 507,705 515.5,708.8 531.1,714.5 540.2,719.3 550.6,727.8 564.9,742 573,747.2 588.2,751.5 596.2,754.4 612.7,758.6 620.9,759.1 628.5,758.2 645.5,756.8 661.7,754.8 677.8,749.6 686.3,745.8 702.8,746.2 718.9,744.5 733.1,743.9 752.1,744.9 769.2,747.7 784.4,749.6 801.5,753.4 817,755.3 833.7,756.3 849.8,757.8 857.4,759.1 874.5,759.7 882.7,762 890.1,767.7 898.2,772.4 914.9,786.6 932,798 940,805.6 955.2,817.9 964.7,823.6 972.3,827.8 979.8,830.3 987.8,832.2 996.9,831.8 1004.5,828.4 1020.6,819.8 1029.5,816.1 1046.6,810.4 1062.7,807.1 1078.5,804.1 1086.4,803.7 1103.5,805.2 1118.7,804.1 1143.7,801.8 1160.4,798.6 1176,795.2 1193.1,792.3 1201.2,789.5 1216.4,784.4 1241.7,781.3 1258.2,778.1 1274.3,774.3 1289.5,773 1299,773 1313.8,770.5 1331.2,768.6 1339.8,766.1 1354.9,762.3 1372.3,759.1 1397,758.7 1413.1,755.3 1429.6,756.3 1445.4,759.1 1461.5,762.9 1478,766.1 1486.2,768.6 1502.7,771.1 1518.5,771.5 1527.9,771.1 1543.1,769.2 1560.2,768.2 1583.9,768 1601,765.4 1616.6,760.1 1633.3,758.2 1641.4,761 1657.9,766.7 1681.7,777.1 1699.1,781.9 1714.8,787.6 1723.2,790.8 1739.5,800.9 1747.4,805 1764.5,806.2 1772.1,806 1779.7,803.1 1789.2,801.4 1797.2,799.5 1804.9,800.9 1821.5,804.7 1837.6,803.7 1853.7,802.4 1869.8,801.2 1886.9,798.6 1902.7,796.7 1910.6,795.2 1919.8,790.8 1935.9,783.4 1952.4,776.8 1960.4,773.4 1976.1,768 1993.2,761.6 2009,758.6 2025.5,757.2 2040,758.2 2050.4,758.7 2058,760.1 2066.2,762.9 2082.7,763.9 2098.8,767.1 2106.4,767.1 2115.9,769.6 2131.5,772.8 2148.2,774.3 2163.4,773.7 2180.8,773 2196.6,772 2204.7,769.9 2221.8,769.6 2229.8,766.7 2246.5,763.9 2262.4,759.5 2278.7,756.8 2295.2,754.8 2302.8,754.9 2311.9,755.9 2319.9,757.2 2327.5,754.9 2335.7,753.4" fill="none" stroke="#ecd04e" stroke-width="1.85" stroke-linejoin="round"/>
<path d="M-3.2 934.8h6.6v9.1h-6.6zM45.8 941.5h6.6v2.4h-6.6zM54.5 939.8h6.6v4.1h-6.6zM78.5 941.1h6.6v2.8h-6.6zM94.8 940.5h6.6v3.4h-6.6zM143.8 941.5h6.6v2.4h-6.6zM152.5 940.9h6.6v3h-6.6zM160.2 939.8h6.6v4.1h-6.6zM168.8 939.8h6.6v4.1h-6.6zM176.5 938.6h6.6v5.3h-6.6zM185.2 938.6h6.6v5.3h-6.6zM192.8 937.7h6.6v6.2h-6.6zM201.5 937.3h6.6v6.6h-6.6zM217.8 937.3h6.6v6.6h-6.6zM250.5 940.7h6.6v3.2h-6.6zM258.2 940.7h6.6v3.2h-6.6zM283.2 941.3h6.6v2.6h-6.6zM290.9 940.7h6.6v3.2h-6.6zM388.9 940.7h6.6v3.2h-6.6zM397.5 937.1h6.6v6.8h-6.6zM405.2 936h6.6v7.9h-6.6zM413.9 936h6.6v7.9h-6.6zM421.5 934.3h6.6v9.6h-6.6zM430.2 933.1h6.6v10.8h-6.6zM437.9 929.9h6.6v14h-6.6zM446.5 925.7h6.6v18.2h-6.6zM454.2 925.2h6.6v18.7h-6.6zM479.2 930.8h6.6v13.1h-6.6zM626.2 941.3h6.6v2.6h-6.6zM675.2 941.5h6.6v2.4h-6.6zM682.9 940.9h6.6v3h-6.6zM707.9 941.3h6.6v2.6h-6.6zM715.6 941.3h6.6v2.6h-6.6zM829.9 941.5h6.6v2.4h-6.6zM993.3 939.4h6.6v4.5h-6.6zM1001.9 935.6h6.6v8.3h-6.6zM1009.6 932.4h6.6v11.5h-6.6zM1018.3 928.9h6.6v15h-6.6zM1025.9 928.9h6.6v15h-6.6zM1099.9 933.7h6.6v10.2h-6.6zM1107.6 929.9h6.6v14h-6.6zM1116.3 927h6.6v16.9h-6.6zM1123.9 925.7h6.6v18.2h-6.6zM1148.9 927h6.6v16.9h-6.6zM1197.9 932.7h6.6v11.2h-6.6zM1205.6 931.8h6.6v12.1h-6.6zM1214.3 929.9h6.6v14h-6.6zM1311.3 939.8h6.6v4.1h-6.6zM1320 937.9h6.6v6h-6.6zM1327.6 936.9h6.6v7h-6.6zM1336.3 933.7h6.6v10.2h-6.6zM1344 933.7h6.6v10.2h-6.6zM1523.6 941.5h6.6v2.4h-6.6zM1532.3 941.5h6.6v2.4h-6.6zM1540 941.3h6.6v2.6h-6.6zM1556.3 941.5h6.6v2.4h-6.6zM1572.6 941.5h6.6v2.4h-6.6zM1589 941.3h6.6v2.6h-6.6zM1597.6 941.3h6.6v2.6h-6.6zM1605.3 940.5h6.6v3.4h-6.6zM1614 938.4h6.6v5.5h-6.6zM1793.7 941.3h6.6v2.6h-6.6zM1883 941.3h6.6v2.6h-6.6zM1891.7 936.5h6.6v7.4h-6.6zM1899.3 934.3h6.6v9.6h-6.6zM1908 931.4h6.6v12.5h-6.6zM1915.7 927.6h6.6v16.3h-6.6zM1932 927.6h6.6v16.3h-6.6zM1940.7 925.7h6.6v18.2h-6.6zM1948.4 922.9h6.6v21h-6.6zM2071.4 941.5h6.6v2.4h-6.6zM2160.7 941.5h6.6v2.4h-6.6zM2169.4 941.3h6.6v2.6h-6.6zM2177 941.3h6.6v2.6h-6.6zM2185.7 940.3h6.6v3.6h-6.6zM2193.4 940.3h6.6v3.6h-6.6zM2202 939.4h6.6v4.5h-6.6zM2218.4 939.4h6.6v4.5h-6.6zM2226 938.4h6.6v5.5h-6.6zM2234.7 938.4h6.6v5.5h-6.6zM2251 938.4h6.6v5.5h-6.6zM2258.7 937.5h6.6v6.4h-6.6zM2324.1 941.5h6.6v2.4h-6.6zM2332.7 941.3h6.6v2.6h-6.6z" fill="#52a499"/>
<path d="M5.5 936.3h6.6v7.6h-6.6zM13.2 938.6h6.6v5.3h-6.6zM21.8 940.5h6.6v3.4h-6.6zM62.2 940.1h6.6v3.8h-6.6zM70.8 940.5h6.6v3.4h-6.6zM87.2 940.9h6.6v3h-6.6zM103.5 941.5h6.6v2.4h-6.6zM111.2 941.5h6.6v2.4h-6.6zM209.2 937.7h6.6v6.2h-6.6zM225.5 939.8h6.6v4.1h-6.6zM234.2 940.7h6.6v3.2h-6.6zM241.8 941.5h6.6v2.4h-6.6zM266.9 941.5h6.6v2.4h-6.6zM274.5 941.5h6.6v2.4h-6.6zM299.5 941.3h6.6v2.6h-6.6zM307.2 941.5h6.6v2.4h-6.6zM315.9 941.5h6.6v2.4h-6.6zM323.5 941.5h6.6v2.4h-6.6zM332.2 941.5h6.6v2.4h-6.6zM339.9 941.5h6.6v2.4h-6.6zM348.5 941.5h6.6v2.4h-6.6zM356.2 941.5h6.6v2.4h-6.6zM381.2 941.5h6.6v2.4h-6.6zM462.9 928h6.6v15.9h-6.6zM470.5 931.8h6.6v12.1h-6.6zM486.9 933.7h6.6v10.2h-6.6zM495.5 935.6h6.6v8.3h-6.6zM503.2 940.7h6.6v3.2h-6.6zM633.9 941.5h6.6v2.4h-6.6zM691.6 941.3h6.6v2.6h-6.6zM699.2 941.5h6.6v2.4h-6.6zM724.2 941.3h6.6v2.6h-6.6zM731.9 941.5h6.6v2.4h-6.6zM740.6 941.5h6.6v2.4h-6.6zM822.2 941.5h6.6v2.4h-6.6zM838.6 941.5h6.6v2.4h-6.6zM846.2 941.5h6.6v2.4h-6.6zM1034.6 929.9h6.6v14h-6.6zM1042.3 931.8h6.6v12.1h-6.6zM1050.9 932.7h6.6v11.2h-6.6zM1058.6 933.7h6.6v10.2h-6.6zM1067.3 935.6h6.6v8.3h-6.6zM1074.9 935.6h6.6v8.3h-6.6zM1083.6 936.5h6.6v7.4h-6.6zM1091.3 936.5h6.6v7.4h-6.6zM1132.6 927h6.6v16.9h-6.6zM1140.3 927h6.6v16.9h-6.6zM1156.6 928h6.6v15.9h-6.6zM1165.3 928h6.6v15.9h-6.6zM1172.9 929.9h6.6v14h-6.6zM1181.6 931.8h6.6v12.1h-6.6zM1189.3 932.7h6.6v11.2h-6.6zM1221.9 929.9h6.6v14h-6.6zM1230.6 930.8h6.6v13.1h-6.6zM1238.3 931.8h6.6v12.1h-6.6zM1246.9 931.8h6.6v12.1h-6.6zM1254.6 932.7h6.6v11.2h-6.6zM1263.3 932.7h6.6v11.2h-6.6zM1271 932.7h6.6v11.2h-6.6zM1278.6 933.7h6.6v10.2h-6.6zM1287.3 936.5h6.6v7.4h-6.6zM1295 939.8h6.6v4.1h-6.6zM1303.6 940.7h6.6v3.2h-6.6zM1352.6 933.7h6.6v10.2h-6.6zM1360.3 935.2h6.6v8.7h-6.6zM1369 935.2h6.6v8.7h-6.6zM1376.6 937.1h6.6v6.8h-6.6zM1385.3 939.4h6.6v4.5h-6.6zM1393 941.3h6.6v2.6h-6.6zM1401.6 941.5h6.6v2.4h-6.6zM1409.3 941.5h6.6v2.4h-6.6zM1548.6 941.5h6.6v2.4h-6.6zM1565 941.5h6.6v2.4h-6.6zM1581.3 941.5h6.6v2.4h-6.6zM1621.7 939.4h6.6v4.5h-6.6zM1630.3 939.4h6.6v4.5h-6.6zM1924.3 927.6h6.6v16.3h-6.6zM1957 924.8h6.6v19.1h-6.6zM1964.7 928.6h6.6v15.3h-6.6zM1973.4 931.4h6.6v12.5h-6.6zM1981 932.4h6.6v11.5h-6.6zM1989.7 933.3h6.6v10.6h-6.6zM1997.4 933.3h6.6v10.6h-6.6zM2006 934.3h6.6v9.6h-6.6zM2013.7 935.2h6.6v8.7h-6.6zM2022.4 936.2h6.6v7.7h-6.6zM2030 939.4h6.6v4.5h-6.6zM2038.7 941.3h6.6v2.6h-6.6zM2046.4 941.5h6.6v2.4h-6.6zM2055 941.5h6.6v2.4h-6.6zM2209.7 940.3h6.6v3.6h-6.6zM2242.4 938.4h6.6v5.5h-6.6zM2267.4 938.4h6.6v5.5h-6.6zM2275 938.4h6.6v5.5h-6.6zM2283.7 939.4h6.6v4.5h-6.6zM2291.4 939.4h6.6v4.5h-6.6zM2300.1 940.3h6.6v3.6h-6.6zM2307.7 941.5h6.6v2.4h-6.6z" fill="#b9e0d9"/>
<path d="M29.5 942.1h6.6v2.4h-6.6zM119.8 942.1h6.6v2.4h-6.6zM127.5 942.1h6.6v2.4h-6.6zM511.9 942.1h6.6v4.9h-6.6zM519.5 942.1h6.6v9.1h-6.6zM528.2 942.1h6.6v11.5h-6.6zM535.9 942.1h6.6v13.4h-6.6zM544.5 942.1h6.6v16.3h-6.6zM552.2 942.1h6.6v18.2h-6.6zM560.9 942.1h6.6v18.5h-6.6zM642.6 942.1h6.6v2.4h-6.6zM658.9 942.1h6.6v2.4h-6.6zM748.2 942.1h6.6v2.6h-6.6zM756.9 942.1h6.6v3.5h-6.6zM764.6 942.1h6.6v5.4h-6.6zM773.2 942.1h6.6v6.4h-6.6zM797.2 942.1h6.6v3.5h-6.6zM854.9 942.1h6.6v2.4h-6.6zM862.6 942.1h6.6v2.4h-6.6zM871.2 942.1h6.6v3h-6.6zM878.9 942.1h6.6v6.4h-6.6zM887.6 942.1h6.6v27.3h-6.6zM895.2 942.1h6.6v40.9h-6.6zM903.9 942.1h6.6v49.7h-6.6zM911.6 942.1h6.6v55.4h-6.6zM927.9 942.1h6.6v54.4h-6.6zM1418 942.1h6.6v3.5h-6.6zM1425.6 942.1h6.6v4.5h-6.6zM1434.3 942.1h6.6v5.4h-6.6zM1467 942.1h6.6v3.5h-6.6zM1483.3 942.1h6.6v3.5h-6.6zM1491 942.1h6.6v4.5h-6.6zM1638 942.1h6.6v3.5h-6.6zM1646.7 942.1h6.6v7.3h-6.6zM1654.3 942.1h6.6v11.1h-6.6zM1663 942.1h6.6v14.9h-6.6zM1670.7 942.1h6.6v15.9h-6.6zM1679.3 942.1h6.6v17.8h-6.6zM1736 942.1h6.6v10.2h-6.6zM1801.3 942.1h6.6v11.1h-6.6zM1810 942.1h6.6v15.9h-6.6zM1817.7 942.1h6.6v17.8h-6.6zM1842.7 942.1h6.6v11.1h-6.6zM2062.7 942.1h6.6v2.4h-6.6zM2079 942.1h6.6v2.6h-6.6zM2087.7 942.1h6.6v4.5h-6.6zM2111.7 942.1h6.6v5.4h-6.6zM2120.4 942.1h6.6v5.4h-6.6zM2316.4 942.1h6.6v2.4h-6.6z" fill="#ec5c56"/>
<path d="M38.2 942.1h6.6v2.4h-6.6zM136.2 942.1h6.6v2.4h-6.6zM364.9 942.1h6.6v2.4h-6.6zM372.5 942.1h6.6v2.4h-6.6zM568.5 942.1h6.6v18.5h-6.6zM577.2 942.1h6.6v12.5h-6.6zM584.9 942.1h6.6v8.7h-6.6zM593.6 942.1h6.6v5.8h-6.6zM601.2 942.1h6.6v3.9h-6.6zM609.9 942.1h6.6v3h-6.6zM617.6 942.1h6.6v2.4h-6.6zM650.2 942.1h6.6v2.4h-6.6zM666.6 942.1h6.6v2.4h-6.6zM780.9 942.1h6.6v6.4h-6.6zM789.6 942.1h6.6v4.9h-6.6zM805.9 942.1h6.6v3h-6.6zM813.6 942.1h6.6v2.4h-6.6zM920.2 942.1h6.6v53.5h-6.6zM936.6 942.1h6.6v50.6h-6.6zM944.3 942.1h6.6v44.9h-6.6zM952.9 942.1h6.6v38.1h-6.6zM960.6 942.1h6.6v34.3h-6.6zM969.3 942.1h6.6v26.7h-6.6zM976.9 942.1h6.6v15.9h-6.6zM985.6 942.1h6.6v5.4h-6.6zM1442 942.1h6.6v4.5h-6.6zM1450.6 942.1h6.6v3.5h-6.6zM1458.3 942.1h6.6v3.5h-6.6zM1474.6 942.1h6.6v2.6h-6.6zM1499.6 942.1h6.6v4.5h-6.6zM1507.3 942.1h6.6v2.6h-6.6zM1516 942.1h6.6v2.6h-6.6zM1687 942.1h6.6v16.8h-6.6zM1695.7 942.1h6.6v13h-6.6zM1703.3 942.1h6.6v11.1h-6.6zM1712 942.1h6.6v10.2h-6.6zM1719.7 942.1h6.6v9.6h-6.6zM1728.3 942.1h6.6v9.2h-6.6zM1744.7 942.1h6.6v10.2h-6.6zM1752.3 942.1h6.6v9.2h-6.6zM1761 942.1h6.6v8.3h-6.6zM1768.7 942.1h6.6v6.4h-6.6zM1777.3 942.1h6.6v2.6h-6.6zM1785 942.1h6.6v2.4h-6.6zM1826.3 942.1h6.6v14.9h-6.6zM1834 942.1h6.6v11.1h-6.6zM1850.3 942.1h6.6v10.2h-6.6zM1859 942.1h6.6v9.2h-6.6zM1866.7 942.1h6.6v6.4h-6.6zM1875.3 942.1h6.6v4.5h-6.6zM2095.4 942.1h6.6v4.5h-6.6zM2104 942.1h6.6v2.6h-6.6zM2128 942.1h6.6v5.4h-6.6zM2136.7 942.1h6.6v4.5h-6.6zM2144.4 942.1h6.6v4.5h-6.6zM2153 942.1h6.6v2.6h-6.6z" fill="#f9cdd1"/>
<path d="M0 943H2414" stroke="#6a6a72" stroke-opacity="0.6" stroke-width="2" stroke-dasharray="10 11.15" stroke-dashoffset="6.5" fill="none"/>
<polyline points="0,955.3 11.4,956.5 20.9,958.2 32.3,960.7 45.5,959.7 58.8,956.9 75.9,956.5 98.7,955.3 113.9,956.5 130.9,959.3 140.4,959.3 151.8,956.9 165.1,953.6 180.3,951.2 195.5,948.3 208.8,945.9 220.1,944.1 227.7,945.1 244.8,945.9 261.9,944.9 284.7,944 303.6,943.2 332.1,943 340,943.2 359,943.2 385.5,942.6 396.9,936 415.9,930.9 431.1,923.6 440.6,918.9 448.2,910.4 457.7,903.7 472.8,903.7 482.3,899.9 497.5,901.8 507,908.5 520.3,917 529.8,922.7 539.3,928.4 548.8,936.9 558.2,944.5 567.7,949.3 573.4,950.6 581,948.7 588.6,945.5 605.7,943 624.7,941.1 632.3,940.3 643.6,941.1 662.6,941.7 672.1,940.3 680,938.5 687.6,936.9 704.7,936.9 718,936 727.4,935.4 744.5,936.4 755.9,939.2 767.3,943 776.8,944.9 790.1,946 801.5,947 816.6,946.4 828,944.9 841.3,944.5 852.7,944.5 862.2,945.9 873.6,946.8 881.2,950.2 885.9,965.4 890.3,978.7 898.4,1000.5 906.6,1022.3 914.7,1041.3 922.9,1054.6 931.1,1066.9 939.2,1074.5 947.4,1078.9 955.6,1082.1 963.7,1085.9 971.9,1085 980,1078.7 988.2,1068.8 996.4,1060.3 1004.5,1053.6 1012.7,1047.9 1020.8,1043.2 1029.5,1038.5 1044.7,1035.6 1053.4,1034.1 1069.7,1033.7 1077.9,1031.8 1095.9,1029.9 1102.4,1025.7 1110.5,1018.5 1118.7,1011.3 1126.8,1006.8 1135,1003.4 1143.2,999.6 1151.3,995.8 1159.5,993.9 1167.6,990.6 1175.8,988.7 1184.2,988.2 1192.3,987.6 1200.5,984.4 1208.6,980 1216.8,975.5 1225,973 1233.1,970.5 1241.3,968.8 1249.4,966.3 1257.6,964.4 1265.8,962 1273.9,960.7 1282.1,958.8 1290.2,960.7 1298.4,962.9 1306.6,962.9 1314.7,961.6 1322.9,958.2 1331,956.5 1339.2,951.2 1347.4,948.3 1355.5,946.8 1363.8,945.9 1372,944.1 1380.1,945.1 1396.4,946.8 1412.8,947.9 1420.9,950.2 1429.1,952.1 1437.2,954.4 1445.4,954 1461.7,954 1478,954.6 1494.4,956.5 1502.5,957.2 1518.8,955.9 1527,954 1543.3,952.1 1559.6,952.5 1576,951.7 1592.3,950.8 1600.4,949.6 1608.6,947.9 1616.8,945.9 1624.9,945.5 1633.1,945.5 1641.2,951.2 1649.4,956.9 1657.6,960.7 1665.7,969.2 1673.9,974.3 1682,979.6 1690.2,982.5 1698.4,981.9 1706.8,982.1 1715,983.4 1731.3,985.9 1739.5,989.5 1747.6,991.6 1755.8,992.5 1764,993.5 1772.1,992.9 1780.3,989.1 1788.4,988.6 1796.6,985.9 1804.8,999.6 1812.9,1009 1821.1,1014.2 1829.2,1014.4 1837.4,1013.4 1845.6,1015.7 1853.7,1016.6 1861.9,1018 1870,1017 1878.2,1014.7 1886.4,1010 1894.5,1003.4 1902.7,998.6 1910.8,992 1919,985.3 1927.2,981.5 1935.3,976.8 1943.5,970.7 1951.6,964.4 1959.8,960.7 1968,961.6 1976.1,961.6 1984.3,959.7 1992.4,958.2 2000.6,955.5 2008.8,954.6 2016.9,954 2025.1,953.1 2033.2,955 2041.7,955.9 2049.9,957.2 2066.2,957.8 2074.3,957.4 2082.5,958.8 2090.7,961.6 2098.8,962 2107,960.7 2115.2,963.5 2123.3,965.4 2131.5,966 2139.6,965.8 2147.8,966.3 2156,965.4 2164.1,963.5 2172.3,961.6 2180.4,960.7 2188.6,959.1 2196.8,957.8 2204.9,956.5 2213.1,956.3 2221.2,954.6 2229.4,952.5 2237.6,951.2 2245.7,950.2 2253.9,948.7 2262,946.8 2270.2,945.9 2278.4,945.3 2286.5,944.9 2294.7,944.5 2302.8,945.1 2311,945.9 2319.2,947.4 2327.3,946.4 2335.5,944.5" fill="none" stroke="#315ef0" stroke-width="1.85" stroke-linejoin="round"/>
<polyline points="0,964.1 11.4,962 20.9,961 32.3,961 45.5,961 58.8,959.7 75.9,958.4 98.7,956.9 113.9,956.9 130.9,957.8 140.4,957.8 151.8,957.2 165.1,956.3 180.3,955 195.5,952.7 208.8,950.6 220.1,948.7 227.7,947.7 244.8,946.8 261.9,945.9 284.7,944.9 303.6,944.5 332.1,944.1 340,944.9 359,944.5 385.5,944.1 396.9,942.2 415.9,937.5 431.1,932.2 440.6,929.3 448.2,924.6 457.7,920.2 472.8,914.2 482.3,911.3 497.5,908.5 507,908.5 520.3,910.7 529.8,913.2 539.3,916.1 548.8,921.8 558.2,926.5 567.7,931.2 581,936 588.6,937.9 605.7,940.2 624.7,941.1 643.6,941.3 662.6,941.7 672.1,941.1 680,940.7 687.6,939.8 704.7,938.8 718,937.9 727.4,937.5 744.5,936.9 755.9,937.5 767.3,939.2 776.8,940.7 790.1,942.2 801.5,943.6 816.6,944.5 828,944.9 841.3,944.9 852.7,944.5 862.2,944.9 873.6,945.1 881.2,946.8 890.3,953.1 898.4,962.6 906.6,976.8 914.7,989.1 922.9,1001.5 931.1,1012.8 939.2,1025.2 947.4,1036.6 955.6,1046.1 963.7,1053.6 971.9,1060.3 980,1063.7 988.2,1064.6 996.4,1064.1 1004.5,1062.2 1012.7,1059 1020.8,1056.5 1029.5,1052.3 1044.7,1046.6 1053.4,1043.8 1069.7,1040.4 1077.9,1038.5 1095.9,1035.6 1102.4,1033.3 1110.5,1029.9 1118.7,1026.1 1126.8,1023.3 1135,1019.5 1143.2,1015.7 1151.3,1011.9 1159.5,1008.7 1167.6,1005.3 1175.8,1001.8 1184.2,998.6 1192.3,996.1 1200.5,993.5 1208.6,991 1216.8,987.8 1225,985.3 1233.1,982.1 1241.3,979.3 1249.4,976.8 1257.6,974.5 1265.8,972 1273.9,969.6 1282.1,967.3 1290.2,966 1298.4,965.4 1306.6,964.8 1314.7,964.4 1322.9,963.1 1331,962 1339.2,959.7 1347.4,957.2 1355.5,955.3 1363.8,954 1372,951.7 1380.1,950.2 1396.4,948.9 1412.8,948.7 1420.9,948.7 1429.1,949.6 1437.2,950.6 1445.4,951.2 1461.7,952.1 1478,953.1 1494.4,954 1502.5,955 1518.8,955.3 1527,955.3 1543.3,954.6 1559.6,954 1576,953.6 1592.3,952.7 1600.4,952.1 1608.6,951.2 1616.8,949.8 1624.9,948.9 1633.1,948.3 1641.2,948.9 1649.4,950.6 1657.6,953.1 1665.7,956.5 1673.9,959.7 1682,963.5 1690.2,966.7 1698.4,969.8 1706.8,973 1715,975.3 1731.3,979.1 1739.5,981.9 1747.6,984 1755.8,985.9 1764,987.2 1772.1,988.2 1780.3,988.2 1788.4,988.2 1796.6,987.8 1804.8,990.1 1812.9,993.9 1821.1,998 1829.2,1001.5 1837.4,1004.3 1845.6,1006.8 1853.7,1009 1861.9,1010.9 1870,1011.9 1878.2,1012.3 1886.4,1011.5 1894.5,1010 1902.7,1007.7 1910.8,1004.7 1919,1001.5 1927.2,997.7 1935.3,993.5 1943.5,989.1 1951.6,984.4 1959.8,979.6 1968,975.8 1976.1,972.6 1984.3,970.1 1992.4,967.3 2000.6,964.8 2008.8,962.9 2016.9,961.2 2025.1,959.7 2033.2,958.8 2041.7,958.2 2049.9,957.8 2066.2,957.8 2074.3,957.4 2082.5,957.8 2090.7,958.4 2098.8,959.1 2107,959.3 2115.2,960.1 2123.3,961.2 2131.5,962.6 2139.6,963.1 2147.8,963.7 2156,963.9 2164.1,963.9 2172.3,963.5 2180.4,962.9 2188.6,962.2 2196.8,961.2 2204.9,960.3 2213.1,959.7 2221.2,958.4 2229.4,957.2 2237.6,955.9 2245.7,955 2253.9,953.6 2262,952.1 2270.2,951.2 2278.4,950.2 2286.5,949.1 2294.7,948.3 2302.8,947.7 2311,947.4 2319.2,947.6 2327.3,947.2 2335.5,946.6" fill="none" stroke="#ea7128" stroke-width="1.85" stroke-linejoin="round"/>
<g id="hdr">
<circle cx="34.35" cy="24.5" r="11.6" fill="#4f9a92"/>
<path d="M30.4 20.2h9l2.8 4.2-7.3 7.8-7.3-7.8z" fill="#fff"/>
<path d="M32 22.1h5.7M34.85 22.1v4.4" stroke="#4f9a92" stroke-width="1.3" fill="none"/>
<ellipse cx="34.85" cy="24.3" rx="3" ry="0.8" fill="none" stroke="#4f9a92" stroke-width="0.7"/>
<circle cx="23.05" cy="36.45" r="14.2" fill="#000"/>
<circle cx="23.05" cy="36.45" r="11.65" fill="#3f2a70"/>
<circle cx="23.05" cy="36.45" r="6.5" fill="none" stroke="#d2954a" stroke-width="1.1" stroke-dasharray="1.6 0.9" stroke-opacity="0.9"/>
<path d="M20 35.2h6.1M21.5 35.2v4.6M24.6 35.2v4.6" stroke="#e8c050" stroke-width="1.3" fill="none"/>
<path d="M21.5 32.3v0.9M24.6 32.3v0.9" stroke="#e8c050" stroke-width="1.1" fill="none"/>
<text transform="translate(53.95,42.19) scale(0.9754,1)" font-size="31.36" fill="#fff" stroke="#000" stroke-width="0.3">Pi Network/Tether · 4h · OKX</text>
<circle cx="481.2" cy="30.6" r="17.3" fill="#0b1b17"/>
<circle cx="481.2" cy="30.6" r="7.9" fill="#4a9e88"/>
<text transform="translate(514.33,40.39) scale(0.9452,1)" font-size="24.76" fill="#fff" stroke="#000" stroke-width="0.3">O</text>
<text transform="translate(535.83,40.39) scale(1.1115,1)" font-size="24.76" fill="#4a9e88" stroke="#000" stroke-width="0.3">0.2078</text>
<text transform="translate(631.91,40.39) scale(0.995,1)" font-size="24.76" fill="#fff" stroke="#000" stroke-width="0.3">H</text>
<text transform="translate(652.51,40.39) scale(1.1131,1)" font-size="24.76" fill="#4a9e88" stroke="#000" stroke-width="0.3">0.2084</text>
<text transform="translate(748.59,40.39) scale(0.9831,1)" font-size="24.76" fill="#fff" stroke="#000" stroke-width="0.3">L</text>
<text transform="translate(765.68,40.39) scale(1.1099,1)" font-size="24.76" fill="#4a9e88" stroke="#000" stroke-width="0.3">0.2070</text>
<text transform="translate(862.22,40.39) scale(0.934,1)" font-size="24.76" fill="#fff" stroke="#000" stroke-width="0.3">C</text>
<text transform="translate(881.62,40.39) scale(1.1132,1)" font-size="24.76" fill="#4a9e88" stroke="#000" stroke-width="0.3">0.2084</text>
<text transform="translate(977.94,40.39) scale(1.1112,1)" font-size="24.76" fill="#4a9e88" stroke="#000" stroke-width="0.3">+0.0004</text>
<text transform="translate(1087.06,40.39) scale(1.0799,1)" font-size="24.76" fill="#4a9e88" stroke="#000" stroke-width="0.3">(+0.19%)</text>
</g>
<g id="trade">
<rect x="2" y="60" width="360" height="74.5" fill="#000" fill-opacity="0.5"/>
<rect x="10.75" y="63.05" width="123.4" height="62.8" rx="9.5" fill="#0e0e0e" stroke="#e0484e" stroke-width="2.1"/>
<text transform="translate(31.15,89.95) scale(1.0869,1)" font-size="24.76" fill="#e0484e" stroke="#e0484e" stroke-width="0.7">0.2082</text>
<text transform="translate(45.82,115.39) scale(1.0334,1)" font-size="20.76" fill="#e0484e" stroke="#0e0e0e" stroke-width="0.3">SELL</text>
<text transform="translate(151.02,101.29) scale(1.0668,1)" font-size="20.34" fill="#c4c4c4" stroke="#000" stroke-width="0.3">0.0002</text>
<rect x="234.45" y="63.05" width="123.55" height="62.8" rx="9.5" fill="#0e0e0e" stroke="#3e6cf5" stroke-width="2.1"/>
<text transform="translate(255.32,89.95) scale(1.0875,1)" font-size="24.76" fill="#3e6cf5" stroke="#3e6cf5" stroke-width="0.7">0.2084</text>
<text transform="translate(273.61,115.39) scale(1.054,1)" font-size="20.76" fill="#3e6cf5" stroke="#0e0e0e" stroke-width="0.3">BUY</text>
</g>
<g id="axis">
<path d="M2553.4 0h6.6v6.6a6.6 6.6 0 0 0-6.6-6.6z" fill="#fff"/>
<path d="M0 0h1.5a1.5 1.5 0 0 0-1.5 1.5z" fill="#bbb"/>
<rect x="2430.3" y="8.5" width="120.8" height="48.3" rx="6.5" fill="#0f0f0f" stroke="#515151" stroke-width="2"/>
<text transform="translate(2436.86,41.49) scale(1.0005,1)" font-size="22.7" fill="#dadada" stroke="#0f0f0f" stroke-width="0.3">USDT</text>
<path d="M2533.4 31l4.6 4.1 4.6-4.1" fill="none" stroke="#dcdcdc" stroke-width="2.3"/>
<text transform="translate(2439.43,138) scale(1.0421,1)" font-size="24.7" fill="#e4e4e4" stroke="#000" stroke-width="0.3">0.3500</text>
<text transform="translate(2439.43,255) scale(1.0421,1)" font-size="24.7" fill="#e4e4e4" stroke="#000" stroke-width="0.3">0.3000</text>
<text transform="translate(2439.43,372) scale(1.0421,1)" font-size="24.7" fill="#e4e4e4" stroke="#000" stroke-width="0.3">0.2500</text>
<text transform="translate(2439.43,607) scale(1.0421,1)" font-size="24.7" fill="#e4e4e4" stroke="#000" stroke-width="0.3">0.1500</text>
<path d="M2423.5 444.8h123.5a3.5 3.5 0 0 1 3.5 3.5v52.9a3.5 3.5 0 0 1-3.5 3.5h-123.5z" fill="#46987f"/>
<text transform="translate(2439.68,469) scale(1.0337,1)" font-size="24.7" fill="#fff" stroke="#46987f" stroke-width="0.3">0.2084</text>
<text transform="translate(2439.67,496) scale(1.0081,1)" font-size="24.7" fill="#cfe6df" stroke="#46987f" stroke-width="0.3">03:47:31</text>
<text transform="translate(2439.36,700) scale(1.0338,1)" font-size="24.7" fill="#e4e4e4" stroke="#000" stroke-width="0.3">75.00</text>
<text transform="translate(2439.47,822) scale(1.0331,1)" font-size="24.7" fill="#e4e4e4" stroke="#000" stroke-width="0.3">25.00</text>
<path d="M2423.4 722.7h87.1a3.5 3.5 0 0 1 3.5 3.5v25.2a3.5 3.5 0 0 1-3.5 3.5h-87.1z" fill="#7c5abe"/>
<text transform="translate(2439.35,747) scale(1.0366,1)" font-size="24.7" fill="#fff" stroke="#7c5abe" stroke-width="0.3">55.33</text>
<path d="M2423.4 755.1h87.1a3.5 3.5 0 0 1 3.5 3.5v25.8a3.5 3.5 0 0 1-3.5 3.5h-87.1z" fill="#f5d75a"/>
<text transform="translate(2439.68,780) scale(1.0236,1)" font-size="24.7" fill="#0c0c0c" stroke="#f5d75a" stroke-width="0.3">49.29</text>
<clipPath id="cm"><rect x="2422" y="877.8" width="138" height="240"/></clipPath>
<g clip-path="url(#cm)">
<text transform="translate(2439.39,888) scale(1.0361,1)" font-size="24.7" fill="#e4e4e4" stroke="#000" stroke-width="0.3">0.0100</text>
</g>
<text transform="translate(2439.16,1078) scale(1.0364,1)" font-size="24.7" fill="#e4e4e4" stroke="#000" stroke-width="0.3">−0.0200</text>
<path d="M2423.3 924.5h102.2a3.5 3.5 0 0 1 3.5 3.5v25.4a3.5 3.5 0 0 1-3.5 3.5h-102.2z" fill="#55a096"/>
<text transform="translate(2439.39,949) scale(1.0319,1)" font-size="24.7" fill="#fff" stroke="#55a096" stroke-width="0.3">0.0004</text>
<path d="M2423.3 957.2h115.9a3.5 3.5 0 0 1 3.5 3.5v25.5a3.5 3.5 0 0 1-3.5 3.5h-115.9z" fill="#3c64f5"/>
<text transform="translate(2439.16,982) scale(1.0347,1)" font-size="24.7" fill="#fff" stroke="#3c64f5" stroke-width="0.3">−0.0002</text>
<path d="M2423.3 990h115.9a3.5 3.5 0 0 1 3.5 3.5v25.4a3.5 3.5 0 0 1-3.5 3.5h-115.9z" fill="#ec7530"/>
<text transform="translate(2439.17,1014) scale(1.0329,1)" font-size="24.7" fill="#fff" stroke="#ec7530" stroke-width="0.3">−0.0006</text>
<path d="M2478.5 1134.9l6.4-11.8h13.6l6.4 11.8-6.4 11.8h-13.6z" fill="none" stroke="#d8d8d8" stroke-width="2" stroke-linejoin="round"/>
<circle cx="2491.7" cy="1134.9" r="3.75" fill="none" stroke="#d8d8d8" stroke-width="2"/>
</g>
<g id="bolt"><circle cx="2336" cy="619.9" r="18.6" fill="#0d0d0d" stroke="#a44dc4" stroke-width="2.9"/>
<path d="M2341.2 610.6L2328.7 620.1L2335.4 620.5L2330.8 629.1L2343.5 619.5L2336.6 619.1Z" fill="#a44dc4" stroke="#a44dc4" stroke-width="1.4" stroke-linejoin="round"/></g>
<g id="legend">
<rect x="2" y="897" width="568" height="34" fill="#000" fill-opacity="0.5"/>
<text transform="translate(11.27,686.19) scale(1.0169,1)" font-size="25.24" fill="#f0f0f0" stroke="#000" stroke-width="0.3">RSI 14 close</text>
<text transform="translate(172.55,686.19) scale(1.0825,1)" font-size="25.24" fill="#8062c8" stroke="#000" stroke-width="0.3">55.33</text>
<text transform="translate(253.77,686.19) scale(1.0869,1)" font-size="25.24" fill="#f0d750" stroke="#000" stroke-width="0.3">49.29</text>
<text transform="translate(10.85,918.09) scale(1.0422,1)" font-size="25.24" fill="#f0f0f0" stroke="#000" stroke-width="0.3">MACD 12 26 close</text>
<text transform="translate(245.77,918.09) scale(1.0926,1)" font-size="25.24" fill="#56aa96" stroke="#000" stroke-width="0.3">0.0004</text>
<text transform="translate(342.5,918.09) scale(1.0848,1)" font-size="25.24" fill="#3e6cf5" stroke="#000" stroke-width="0.3">−0.0002</text>
<text transform="translate(454.7,918.09) scale(1.0896,1)" font-size="25.24" fill="#eb7832" stroke="#000" stroke-width="0.3">−0.0006</text>
</g>
<g id="time">
<text transform="translate(49.2,1143.89) scale(1.0342,1)" font-size="24.91" fill="#e4e4e4" stroke="#000" stroke-width="0.3" text-anchor="middle">5</text>
<text transform="translate(196.2,1143.89) scale(1.0342,1)" font-size="24.91" fill="#e4e4e4" stroke="#000" stroke-width="0.3" text-anchor="middle">8</text>
<text transform="translate(343.2,1143.89) scale(1.0342,1)" font-size="24.91" fill="#e4e4e4" stroke="#000" stroke-width="0.3" text-anchor="middle">11</text>
<text transform="translate(490.2,1143.89) scale(1.0342,1)" font-size="24.91" fill="#e4e4e4" stroke="#000" stroke-width="0.3" text-anchor="middle">14</text>
<text transform="translate(637.2,1143.89) scale(1.0342,1)" font-size="24.91" fill="#e4e4e4" stroke="#000" stroke-width="0.3" text-anchor="middle">17</text>
<text transform="translate(784.2,1143.89) scale(1.0342,1)" font-size="24.91" fill="#e4e4e4" stroke="#000" stroke-width="0.3" text-anchor="middle">20</text>
<text transform="translate(931.2,1143.89) scale(1.0342,1)" font-size="24.91" fill="#e4e4e4" stroke="#000" stroke-width="0.3" text-anchor="middle">23</text>
<text transform="translate(1078.2,1143.89) scale(1.0342,1)" font-size="24.91" fill="#e4e4e4" stroke="#000" stroke-width="0.3" text-anchor="middle">26</text>
<text transform="translate(1470.2,1143.89) scale(1.0342,1)" font-size="24.91" fill="#e4e4e4" stroke="#000" stroke-width="0.3" text-anchor="middle">4</text>
<text transform="translate(1617.2,1143.89) scale(1.0342,1)" font-size="24.91" fill="#e4e4e4" stroke="#000" stroke-width="0.3" text-anchor="middle">7</text>
<text transform="translate(1764.7,1143.89) scale(1.0342,1)" font-size="24.91" fill="#e4e4e4" stroke="#000" stroke-width="0.3" text-anchor="middle">10</text>
<text transform="translate(1911.7,1143.89) scale(1.0342,1)" font-size="24.91" fill="#e4e4e4" stroke="#000" stroke-width="0.3" text-anchor="middle">13</text>
<text transform="translate(2058.7,1143.89) scale(1.0342,1)" font-size="24.91" fill="#e4e4e4" stroke="#000" stroke-width="0.3" text-anchor="middle">16</text>
<text transform="translate(2205.7,1143.89) scale(1.0342,1)" font-size="24.91" fill="#e4e4e4" stroke="#000" stroke-width="0.3" text-anchor="middle">19</text>
<text transform="translate(2352.7,1143.89) scale(1.0342,1)" font-size="24.91" fill="#e4e4e4" stroke="#000" stroke-width="0.3" text-anchor="middle">22</text>
<text transform="translate(1302.87,1143.93) scale(0.9729,1)" font-size="24.76" font-weight="700" fill="#fff">Oct</text>
</g>
<g id="logo" fill="#dcdcdc" stroke="#0f0f0f" stroke-width="6" paint-order="stroke" stroke-linejoin="miter">
<path d="M16.9 1051h23.5v29.1h-11.4v-16.85h-12.1z"/>
<circle cx="49.95" cy="1057.1" r="5.9"/>
<path d="M61.5 1051h13.5l-11.4 29.1h-13.5z"/>
<text transform="translate(88.31,1079.89) scale(0.9543,1)" font-size="41.49" font-weight="700" fill="#dcdcdc">TradingView</text>
</g>
</svg>
</body></html>
